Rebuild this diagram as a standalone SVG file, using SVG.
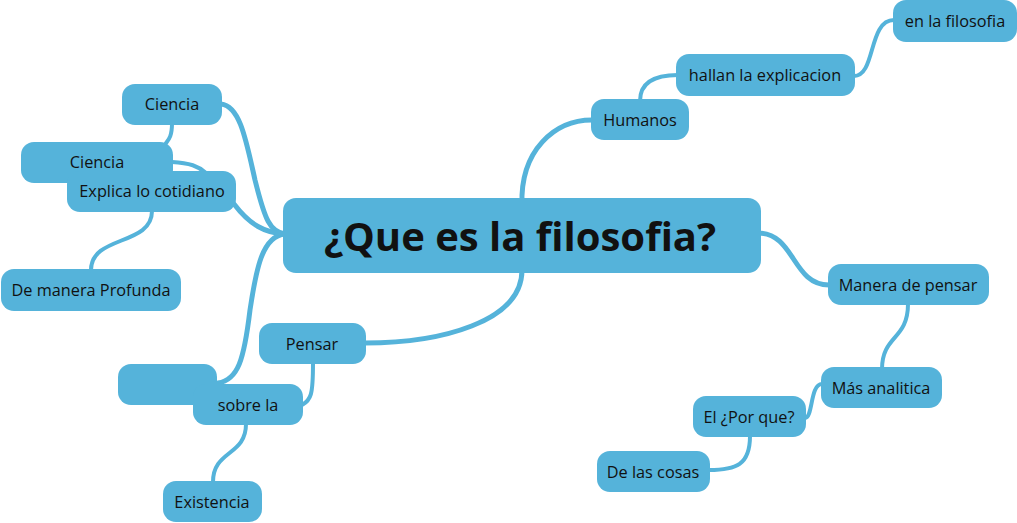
<svg xmlns="http://www.w3.org/2000/svg" width="1017" height="523" viewBox="0 0 1017 523">
<style>
.n rect{fill:#55B3DA}
.n text{font-family:"Open Sans","Noto Sans","DejaVu Sans",sans-serif;font-size:16.3px;fill:#111;text-anchor:middle}
#center text{font-size:40px;font-weight:bold}
#links path{fill:none;stroke:#55B3DA;stroke-width:4;stroke-linecap:round}
#links path.m{stroke-width:5}
</style>
<rect width="1017" height="523" fill="#fff"/>
<g id="links">
<path class="m" d="M522 205 C520 150 555 120 592 120"/>
<path d="M640 101 C640 82 655 75 678 75"/>
<path d="M854 76 C876 76 868 20 894 20"/>
<path class="m" d="M758 233 C795 233 792 285 829 285"/>
<path d="M908 304 C908 340 882 335 882 369"/>
<path d="M822 384 C810 384 813 418 805 418"/>
<path d="M750 436 C750 465 736 470 709 470"/>
<path class="m" d="M522 270 C522 322 440 343 365 343"/>
<path d="M313 363 C313 395 311 400 302 405"/>
<path d="M246 424 C246 456 213 450 213 482"/>
<path class="m" d="M285 234 C262 236 256 270 250 310 C244 360 238 380 218 383"/>
<path class="m" d="M221 104 C240 106 246 140 255 180 C265 220 270 232 285 234"/>
<path class="m" d="M234 204 C250 225 265 233 285 234"/>
<path d="M172 123 C172 138 168 140 164 146"/>
<path d="M172 162 C190 163 198 166 206 173"/>
<path d="M152 211 C152 246 91 235 91 270"/>
</g>
<g id="center" class="n"><rect x="283" y="198" width="478" height="75" rx="13"/><text x="520" y="251">¿Que es la filosofia?</text></g>
<g id="humanos" class="n"><rect x="591" y="99" width="98" height="41" rx="13"/><text x="640" y="126">Humanos</text></g>
<g id="hallan" class="n"><rect x="676" y="54" width="179" height="42" rx="13"/><text x="765" y="81">hallan la explicacion</text></g>
<g id="enlafilosofia" class="n"><rect x="893" y="0" width="124" height="42" rx="13"/><text x="955" y="27">en la filosofia</text></g>
<g id="manera" class="n"><rect x="828" y="264" width="161" height="41" rx="13"/><text x="908" y="291">Manera de pensar</text></g>
<g id="mas" class="n"><rect x="821" y="367" width="121" height="41" rx="13"/><text x="881" y="394">Más analitica</text></g>
<g id="porque" class="n"><rect x="693" y="396" width="113" height="41" rx="13"/><text x="749" y="423">El ¿Por que?</text></g>
<g id="cosas" class="n"><rect x="597" y="451" width="113" height="41" rx="13"/><text x="653" y="478">De las cosas</text></g>
<g id="pensar" class="n"><rect x="259" y="323" width="107" height="41" rx="13"/><text x="312" y="350">Pensar</text></g>
<g id="blank" class="n"><rect x="118" y="364" width="99" height="41" rx="13"/></g>
<g id="sobre" class="n"><rect x="193" y="384" width="110" height="41" rx="13"/><text x="248" y="411">sobre la</text></g>
<g id="existencia" class="n"><rect x="163" y="481" width="99" height="41" rx="13"/><text x="212" y="508">Existencia</text></g>
<g id="ciencia1" class="n"><rect x="122" y="84" width="100" height="41" rx="13"/><text x="172" y="110">Ciencia</text></g>
<g id="ciencia2" class="n"><rect x="21" y="142" width="152" height="41" rx="13"/><text x="97" y="168">Ciencia</text></g>
<g id="explica" class="n"><rect x="67" y="171" width="169" height="41" rx="13"/><text x="152" y="197">Explica lo cotidiano</text></g>
<g id="profunda" class="n"><rect x="1" y="269" width="180" height="42" rx="13"/><text x="91" y="296">De manera Profunda</text></g>
</svg>
